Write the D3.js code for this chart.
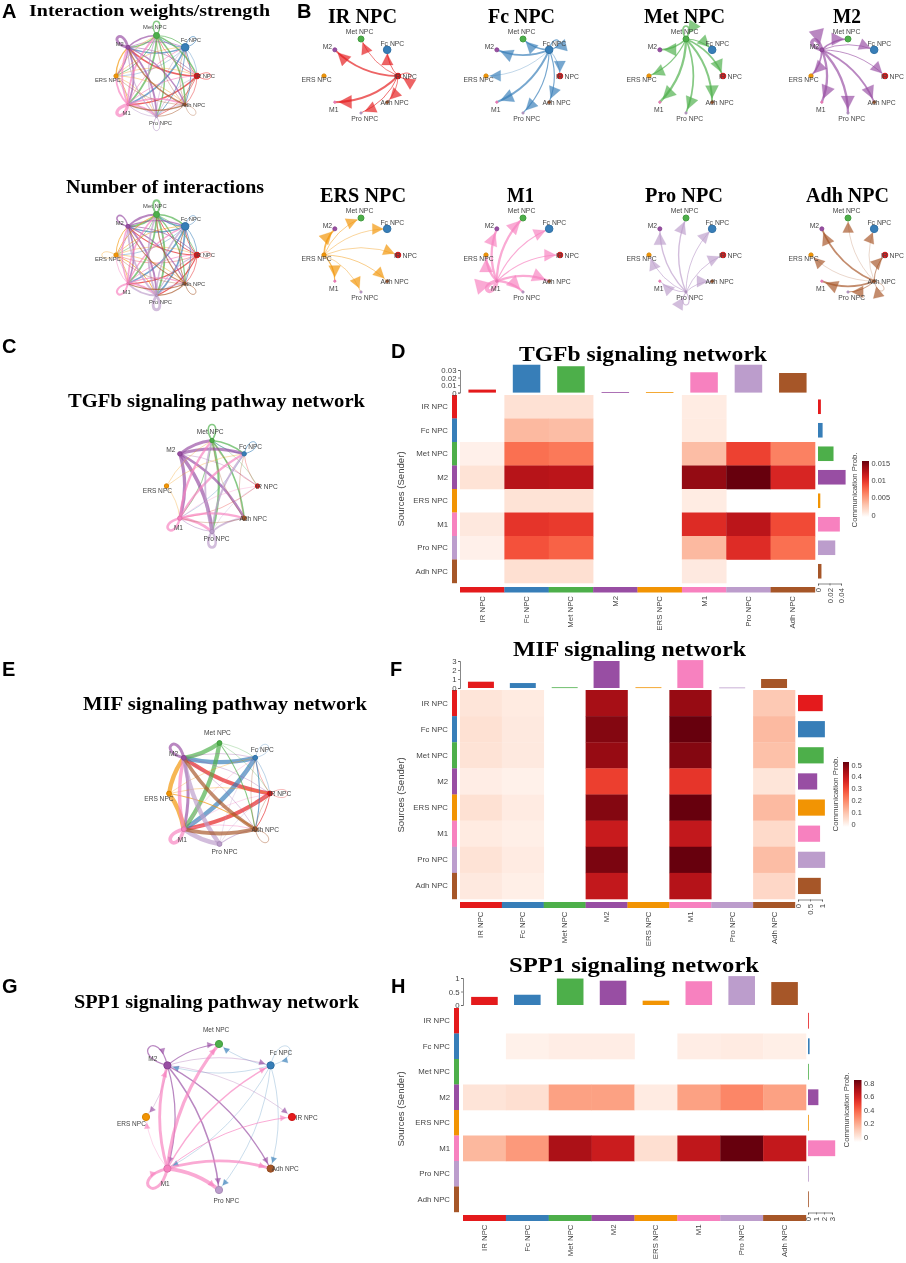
<!DOCTYPE html>
<html><head><meta charset="utf-8">
<script src="https://cdn.jsdelivr.net/npm/d3@7/dist/d3.min.js"></script>
<style>
html,body{margin:0;padding:0;background:#fff}
svg{display:block;filter:blur(0.4px)}
text{font-family:"Liberation Sans",Arial,sans-serif;fill:#444}
.title{font-family:"Liberation Serif",serif;font-weight:bold;fill:#000}
.letter{font-family:"Liberation Sans",Arial,sans-serif;font-weight:bold;fill:#000}
</style></head><body><div id="chart"></div>
<script>
// ---------- data ----------
const cellTypes = ["IR NPC","Fc NPC","Met NPC","M2","ERS NPC","M1","Pro NPC","Adh NPC"];
const cellColors = ["#E41A1C","#377EB8","#4DAF4A","#984EA3","#F29403","#F781BF","#BC9DCC","#A65628"];

// rows = senders, columns = receivers
const weightValues = [
 [0.8,0.8,0.7,1.6,0,1.8,0.8,0.7],
 [0.6,1.0,1.0,1.5,0.4,1.8,1.0,1.0],
 [1.5,1.0,1.5,1.5,1.0,2.0,1.5,1.7],
 [0.8,0.8,1.5,3.0,1.5,2.0,2.0,1.5],
 [0.5,0.5,0.6,1.5,0,1.0,0.5,0.6],
 [1.0,1.0,2.0,2.0,2.0,3.5,2.0,2.0],
 [0.8,0.8,1.2,1.2,0.8,0.8,1.0,0.8],
 [0.8,0.3,0.3,1.5,0.3,1.5,0.8,0.5]
];
const countValues = [
 [0.3,0.8,0.8,1.0,0.4,1.0,1.0,0.6],
 [0.7,0.6,1.4,1.3,0.5,1.4,1.5,0.8],
 [0.7,1.4,1.6,1.5,0.6,1.5,1.6,1.0],
 [0.8,1.2,1.6,1.3,0.6,1.4,1.6,1.0],
 [0.4,0.6,0.8,0.8,0.3,0.7,0.8,0.5],
 [0.8,1.2,1.5,1.3,0.6,1.7,1.6,1.0],
 [0.9,1.3,1.6,1.6,0.6,1.7,2.4,1.1],
 [0.5,0.8,1.0,0.9,0.4,0.9,1.1,0.7]
];
const tgfbProb = [
 [0,.0016,.0016,0,0,.0008,0,0],
 [0,.0038,.0036,0,0,.0009,0,0],
 [.0004,.0072,.0068,0,0,.0036,.0092,.0064],
 [.0015,.0122,.0120,0,0,.0136,.0150,.0106],
 [0,.0015,.0015,0,0,.0008,0,0],
 [.0011,.0098,.0095,0,0,.0103,.0120,.0088],
 [.0004,.0085,.0078,0,0,.0038,.0102,.0072],
 [0,.0017,.0017,0,0,.0010,0,0]
];
const mifProb = [
 [.045,.03,0,.43,0,.45,0,.10],
 [.055,.035,0,.47,0,.50,0,.125],
 [.05,.035,0,.45,0,.47,0,.115],
 [.022,.012,0,.31,0,.325,0,.045],
 [.055,.028,0,.47,0,.50,0,.125],
 [.03,.018,0,.38,0,.39,0,.07],
 [.05,.028,0,.48,0,.50,0,.12],
 [.035,.018,0,.39,0,.41,0,.075]
];
const spp1Prob = [
 [0,0,0,0,0,0,0,0],
 [0,.02,.04,.04,0,.04,.05,.03],
 [0,0,0,0,0,0,0,0],
 [.08,.10,.28,.28,.05,.28,.35,.28],
 [0,0,0,0,0,0,0,0],
 [.22,.30,.72,.64,.10,.67,.85,.66],
 [0,0,0,0,0,0,0,0],
 [0,0,0,0,0,0,0,0]
];
const tgfbTop = [.004,.037,.035,.0008,.0008,.027,.037,.026];
const tgfbRight = [.005,.008,.027,.048,.004,.038,.030,.006];
const mifTop = [.7,.55,.08,3.0,.08,3.1,.06,1.0];
const mifRight = [1.03,1.12,1.07,.8,1.12,.92,1.13,.95];
const spp1Top = [.3,.38,.98,.9,.16,.88,1.07,.85];
const spp1Right = [.06,.2,.05,1.3,.05,3.4,.03,.08];
const tgfbTopTicks = [0,.01,.02,.03], tgfbRightTicks = [0,.02,.04], tgfbLegend = [0,.005,.01,.015];
const mifTopTicks = [0,1,2,3], mifRightTicks = [0,.5,1], mifLegend = [0,.1,.2,.3,.4,.5];
const spp1TopTicks = [0,.5,1], spp1RightTicks = [0,1,2,3], spp1Legend = [0,.2,.4,.6,.8];
const overviewNodeSizes = [2.8,3.8,3,2,2.1,1.1,1.1,1.3];
const sourceTitles = ["IR NPC","Fc NPC","Met NPC","M2","ERS NPC","M1","Pro NPC","Adh NPC"];

// ---------- page ----------
const svg = d3.select("#chart").append("svg").attr("width",906).attr("height",1263).attr("viewBox","0 0 906 1263");
const defs = svg.append("defs");

function title(txt,x0,x1,base,size){
  svg.append("text").attr("class","title").attr("x",x0).attr("y",base).attr("font-size",size)
    .attr("textLength",x1-x0).attr("lengthAdjust","spacingAndGlyphs").text(txt);
}
function letter(txt,x,base){
  svg.append("text").attr("class","letter").attr("x",x).attr("y",base).attr("font-size",20).text(txt);
}
const angle = d3.scaleLinear().domain([0,cellTypes.length]).range([0,2*Math.PI]);
const labelOffset = [[.2,0],[.14,-.17],[-.04,-.2],[-.2,-.09],[-.2,.09],[-.03,.2],[.1,.15],[.2,0]];
const edgeOpacity = .68;

function network(o){
  const g = svg.append("g");
  const nodes = cellTypes.map((n,i)=>({name:n,i,x:o.cx+o.r*Math.cos(angle(i)),y:o.cy-o.r*Math.sin(angle(i)),a:angle(i)}));
  const w = d3.scaleLinear().domain([0,o.maxValue]).range([0,o.maxWidth]);
  const edges=[];
  o.values.forEach((row,s)=>{ if(o.onlySource!==undefined && o.onlySource!==s) return;
    row.forEach((v,t)=>{ if(v>0) edges.push({s,t,v}); }); });
  edges.forEach(e=>{
    const S=nodes[e.s],T=nodes[e.t],lw=Math.max(w(e.v),o.minWidth||.3),col=cellColors[e.s];
    const p=d3.path(); let tip,dir;
    if(e.s===e.t){
      const L=.55*o.r,sp=.55,dx=Math.cos(S.a),dy=-Math.sin(S.a);
      const rot=(x,y,q)=>[x*Math.cos(q)-y*Math.sin(q),x*Math.sin(q)+y*Math.cos(q)];
      const c1=rot(dx,dy,-sp),c2=rot(dx,dy,sp);
      const C1=[S.x+L*c1[0],S.y+L*c1[1]],C2=[S.x+L*c2[0],S.y+L*c2[1]];
      p.moveTo(S.x,S.y);p.bezierCurveTo(C1[0],C1[1],C2[0],C2[1],S.x,S.y);
      const u=.88,b=(a,c,d)=>3*(1-u)*(1-u)*u*c+3*(1-u)*u*u*d+(Math.pow(1-u,3)+u*u*u)*a;
      tip=[b(S.x,C1[0],C2[0]),b(S.y,C1[1],C2[1])];
      dir=[-c2[0],-c2[1]];
    } else {
      const dx=T.x-S.x,dy=T.y-S.y,k=o.k;
      const cx=(S.x+T.x)/2+k*dy,cy=(S.y+T.y)/2-k*dx;
      p.moveTo(S.x,S.y);p.quadraticCurveTo(cx,cy,T.x,T.y);
      const m=Math.hypot(T.x-cx,T.y-cy);
      dir=[(T.x-cx)/m,(T.y-cy)/m];
      tip=[T.x-dir[0]*o.tipOffset,T.y-dir[1]*o.tipOffset];
    }
    g.append("path").attr("d",p.toString()).attr("fill","none").attr("stroke",col)
      .attr("stroke-width",lw).attr("stroke-opacity",edgeOpacity).attr("stroke-linecap","round");
    if(o.arrow>0){
      const len=o.arrow+lw*o.arrowGrow,hw=len*.52;
      const bx=tip[0]-dir[0]*len,by=tip[1]-dir[1]*len,nx=-dir[1],ny=dir[0];
      const a=d3.path();a.moveTo(tip[0],tip[1]);a.lineTo(bx+nx*hw,by+ny*hw);a.lineTo(bx-nx*hw,by-ny*hw);a.closePath();
      g.append("path").attr("d",a.toString()).attr("fill",col).attr("fill-opacity",edgeOpacity).attr("stroke",col).attr("stroke-opacity",.35).attr("stroke-width",.5);
    }
  });
  g.selectAll("circle.node").data(nodes).join("circle").attr("class","node")
    .attr("cx",d=>d.x).attr("cy",d=>d.y).attr("r",d=>o.nodeSizes?o.nodeSizes[d.i]:o.nodeR)
    .attr("fill",d=>cellColors[d.i]).attr("stroke",d=>d3.color(cellColors[d.i]).darker(.3));
  g.selectAll("text.lab").data(nodes).join("text").attr("class","lab")
    .attr("x",d=>d.x+labelOffset[d.i][0]*o.r).attr("y",d=>d.y+labelOffset[d.i][1]*o.r)
    .attr("text-anchor","middle").attr("dominant-baseline","central").attr("font-size",o.labelSize).text(d=>d.name);
}

function heatmap(o){
  const g=svg.append("g");
  const X=d3.scaleBand().domain(cellTypes).range([o.x0,o.x1]);
  const Y=d3.scaleBand().domain(cellTypes).range([o.y0,o.y1]);
  const C=d3.scaleSequential(d3.interpolateReds).domain([0,o.colorMax]);
  o.values.forEach((row,r)=>row.forEach((v,c)=>{
    if(v>0) g.append("rect").attr("x",X(cellTypes[c])).attr("y",Y(cellTypes[r])).attr("width",X.bandwidth()+.3).attr("height",Y.bandwidth()+.3).attr("fill",C(v));
  }));
  cellTypes.forEach((n,i)=>{
    g.append("rect").attr("x",o.stripX).attr("y",Y(n)).attr("width",5).attr("height",Y.bandwidth()+.2).attr("fill",cellColors[i]);
    g.append("rect").attr("x",X(n)).attr("y",o.stripY).attr("width",X.bandwidth()+.2).attr("height",o.stripH).attr("fill",cellColors[i]);
    g.append("text").attr("x",o.stripX-4).attr("y",Y(n)+Y.bandwidth()/2).attr("text-anchor","end").attr("dominant-baseline","central").attr("font-size",7.8).text(n);
    g.append("text").attr("transform",`translate(${X(n)+X.bandwidth()/2},${o.stripY+o.stripH+3.5}) rotate(-90)`).attr("text-anchor","end").attr("dominant-baseline","central").attr("font-size",7.8).text(n);
  });
  const tY=d3.scaleLinear().domain([0,o.topTicks[o.topTicks.length-1]]).range([o.topBase,o.topTickPx]);
  const bw=X.bandwidth()*.62;
  o.top.forEach((v,i)=>g.append("rect").attr("x",X(cellTypes[i])+(X.bandwidth()-bw)/2).attr("y",tY(v)).attr("width",bw).attr("height",Math.max(o.topBase-tY(v),.8)).attr("fill",cellColors[i]));
  const ta=g.append("g").attr("transform",`translate(${o.x0},0)`).call(d3.axisLeft(tY).tickValues(o.topTicks).tickSize(2).tickPadding(1.5).tickFormat(d=>String(d)));
  const rX=d3.scaleLinear().domain([0,o.rightTicks[o.rightTicks.length-1]]).range([o.rightX,o.rightTickPx]);
  const bh=Y.bandwidth()*.62;
  o.right.forEach((v,i)=>g.append("rect").attr("x",o.rightX).attr("y",Y(cellTypes[i])+(Y.bandwidth()-bh)/2).attr("width",Math.max(rX(v)-o.rightX,.8)).attr("height",bh).attr("fill",cellColors[i]));
  const ra=g.append("g").attr("transform",`translate(0,${o.y1+.5})`).call(d3.axisBottom(rX).tickValues(o.rightTicks).tickSize(2).tickFormat(d=>String(d)));
  ra.selectAll("text").attr("transform","rotate(-90)").attr("text-anchor","end").attr("x",-4.5).attr("y",0).attr("dy",".32em");
  [ta,ra].forEach(a=>{a.selectAll("text").attr("font-size",7.8).attr("font-family","Liberation Sans").style("fill","#444");a.selectAll("path,line").attr("stroke","#555").attr("stroke-width",.7);});
  g.append("text").attr("transform",`translate(${o.srcX},${o.srcY}) rotate(-90)`).attr("text-anchor","middle").attr("dominant-baseline","central").attr("font-size",9.6).text("Sources (Sender)");
  g.append("text").attr("transform",`translate(${o.legX-8},${o.legTitleY}) rotate(-90)`).attr("text-anchor","middle").attr("dominant-baseline","central").attr("font-size",7.8).text("Communication Prob.");
  const id="grad"+o.id,gr=defs.append("linearGradient").attr("id",id).attr("x1",0).attr("x2",0).attr("y1",1).attr("y2",0);
  d3.range(0,1.001,.1).forEach(t=>gr.append("stop").attr("offset",t).attr("stop-color",t===0?"#fff":C(t*o.colorMax)));
  const lY=d3.scaleLinear().domain([0,o.legend[o.legend.length-1]]).range([o.leg0,o.legTop]);
  g.append("rect").attr("x",o.legX).attr("y",o.legY0).attr("width",o.legW).attr("height",o.legY1-o.legY0).attr("fill",`url(#${id})`);
  o.legend.forEach(v=>g.append("text").attr("x",o.legX+o.legW+2.5).attr("y",lY(v)).attr("dominant-baseline","central").attr("font-size",7.4).text(String(v)));
}

// ---------- panel A / B ----------
letter("A",2,18); letter("B",297,18); letter("C",2,353); letter("D",391,358);
letter("E",2,676); letter("F",390,676); letter("G",2,993); letter("H",391,993);
title("Interaction weights/strength",29,270,16,17.5);
title("Number of interactions",66,264,193,19);
network({cx:156.5,cy:76,r:40.5,k:.2,values:weightValues,maxValue:3.5,maxWidth:3.2,minWidth:.5,arrow:0,tipOffset:0,arrowGrow:0,nodeSizes:overviewNodeSizes,labelSize:5.8});
network({cx:156.5,cy:255,r:40.5,k:.2,values:countValues,maxValue:2.4,maxWidth:2.8,minWidth:.5,arrow:0,tipOffset:0,arrowGrow:0,nodeSizes:overviewNodeSizes,labelSize:5.8});

const bCenters=[361,523,686,848], bRows=[76,255];
const bTitleSpan=[[328,397,23],[488,555,23],[644,725,23],[833,861,23],[320,406,202],[507,534,202],[645,723,202],[806,889,202]];
cellTypes.forEach((n,i)=>{
  const cx=bCenters[i%4],cy=bRows[Math.floor(i/4)],t=bTitleSpan[i];
  title(sourceTitles[i],t[0],t[1],t[2],20.5);
  network({cx,cy,r:37,k:.2,values:weightValues,onlySource:i,maxValue:1,maxWidth:1.15,minWidth:.35,arrow:10,arrowGrow:1.3,tipOffset:4,nodeSizes:overviewNodeSizes,labelSize:6.8});
});

// ---------- panel C / D ----------
title("TGFb signaling pathway network",68,365,407,18.5);
network({cx:212,cy:486,r:45.5,k:.15,values:tgfbProb,maxValue:.015,maxWidth:3.6,minWidth:.45,arrow:0,tipOffset:0,arrowGrow:0,nodeR:2.2,labelSize:6.6});
title("TGFb signaling network",519,767,361,21);
heatmap({id:"D",values:tgfbProb,colorMax:.015,top:tgfbTop,right:tgfbRight,topTicks:tgfbTopTicks,rightTicks:tgfbRightTicks,legend:tgfbLegend,
 x0:460,x1:815,y0:395,y1:583,stripX:452,stripY:587,stripH:5.5,topBase:392.6,topTickPx:370,rightX:818,rightTickPx:841,
 srcX:400,srcY:489,legX:862,legW:7,legY0:461,legY1:517,leg0:515,legTop:463,legTitleY:490});

// ---------- panel E / F ----------
title("MIF signaling pathway network",83,367,710,18.5);
network({cx:219.5,cy:793.5,r:50.5,k:.12,values:mifProb,maxValue:.5,maxWidth:4.6,minWidth:.45,arrow:0,tipOffset:0,arrowGrow:0,nodeR:2.4,labelSize:6.6});
title("MIF signaling network",513,746,656,21);
heatmap({id:"F",values:mifProb,colorMax:.5,top:mifTop,right:mifRight,topTicks:mifTopTicks,rightTicks:mifRightTicks,legend:mifLegend,
 x0:460,x1:795,y0:690,y1:899,stripX:452,stripY:902,stripH:6,topBase:688,topTickPx:661,rightX:798,rightTickPx:822,
 srcX:400,srcY:795,legX:843,legW:6,legY0:762,legY1:827,leg0:824,legTop:765,legTitleY:794});

// ---------- panel G / H ----------
title("SPP1 signaling pathway network",74,359,1008,18.5);
network({cx:219,cy:1117,r:73,k:.15,values:spp1Prob,maxValue:.85,maxWidth:3.8,minWidth:.4,arrow:5.5,arrowGrow:.1,tipOffset:6,nodeR:3.6,labelSize:6.5});
title("SPP1 signaling network",509,759,972,21);
heatmap({id:"H",values:spp1Prob,colorMax:.85,top:spp1Top,right:spp1Right,topTicks:spp1TopTicks,rightTicks:spp1RightTicks,legend:spp1Legend,
 x0:463,x1:806,y0:1008,y1:1212,stripX:454,stripY:1215,stripH:6,topBase:1005,topTickPx:978,rightX:808,rightTickPx:832,
 srcX:400,srcY:1109,legX:854,legW:7.5,legY0:1080,legY1:1142,leg0:1137,legTop:1083,legTitleY:1110});
</script></body></html>
